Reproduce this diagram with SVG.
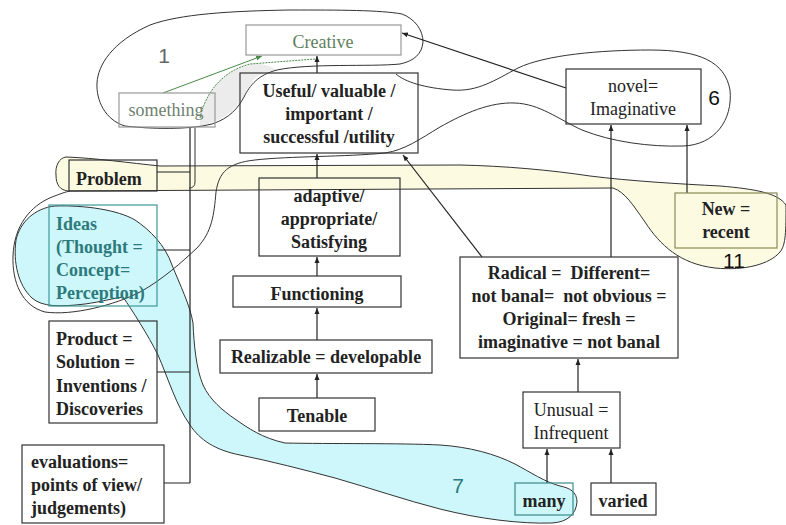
<svg xmlns="http://www.w3.org/2000/svg" width="786" height="525" viewBox="0 0 786 525">
<style>
.bx{fill:none;stroke:#333;stroke-width:1.2}
.lt{fill:none;stroke:#999;stroke-width:1.2}
.ol{fill:none;stroke:#333;stroke-width:1}
.cn{fill:none;stroke:#222;stroke-width:1.2}
.t{font-family:"Liberation Serif",serif;font-size:18px;fill:#222;font-weight:bold;text-anchor:middle}
.r{font-weight:normal}
.l{text-anchor:start}
.n{font-family:"Liberation Sans",Arial,sans-serif;font-size:21px;fill:#111;text-anchor:middle}
</style>
<defs>
<marker id="ah" markerWidth="8" markerHeight="8" refX="6" refY="4" orient="auto" markerUnits="userSpaceOnUse"><path d="M0,1.5 L6,4 L0,6.5 z" fill="#222"/></marker>
<marker id="ag" markerWidth="8" markerHeight="8" refX="6" refY="4" orient="auto" markerUnits="userSpaceOnUse"><path d="M0,1.5 L6,4 L0,6.5 z" fill="#4a8a4a"/></marker>
</defs>
<rect width="786" height="525" fill="#fff"/>

<g id="blobs">
<path id="blob7" d="M123,297 C132,310 148,335 158,355 C168,378 176,405 190,425 C200,440 215,450 240,455 C270,461 305,470 335,478 C370,488 405,500 440,509 C480,519 520,524 552,523 C568,522 576,514 577,502 C577,492 570,488 560,486 C545,482 530,472 515,464 C495,454 470,447 440,445 C400,443 330,444 285,443 C262,438 248,428 235,419 C222,410 210,400 203,385 C196,368 194,345 193,323 C190,305 180,285 172,265 C165,245 150,230 135,220 C118,210 85,205 55,206 C35,208 20,222 16,240 C13,262 18,285 32,298 C42,307 60,307 85,304 C100,302 115,298 123,297 Z" fill="#cdf7fb" stroke="#333" stroke-width="1"/>
<path id="blob11" d="M66,157 C59,158 55,166 56,175 C56,185 60,190 68,191 L613,188 C625,192 633,205 645,222 C660,245 680,264 715,268 C745,271 770,264 780,252 C786,245 786,230 786,205 C778,193 755,189 720,186 C680,184 630,181 590,176 C550,170 505,166 460,165 L160,166 C130,163 95,158 66,157 Z" fill="#fdfae2" stroke="#333" stroke-width="1"/>
<path id="greyfill" d="M200,118 C205,95 220,72 252,64 C262,63 270,66 277,70 C262,72 255,77 250,85 C244,95 238,108 228,114 C220,120 210,124 200,126 Z" fill="#ececec"/>
<path id="blob1" class="ol" d="M97,83 C98,65 112,42 150,25 C180,14 230,11 290,10 C340,10 380,10 402,14 C415,19 423,30 423,42 C422,54 414,61 400,64 C370,67 310,63 277,70 C258,75 250,85 244,97 C238,108 230,118 212,124 C190,130 150,129 125,126 C105,120 96,100 97,83 Z"/>
<path id="blob6" class="ol" d="M396,74 C405,82 425,88 452,90 C478,92 495,80 518,68 C545,55 600,50 650,50 C700,50 725,62 730,90 C733,120 715,145 683,146 C650,147 612,142 582,130 C558,119 540,104 515,103 C490,102 465,113 440,127 C420,139 405,150 385,153 C345,157 290,156 255,160 C228,163 219,172 216,192 C214,215 212,232 197,248 C182,262 162,280 140,292 C115,305 72,316 45,312 C22,306 12,282 13,256 C14,226 30,206 52,197 C60,194 65,192 70,191"/>
</g>

<g id="connectors">
<path class="cn" d="M190,128 L190,483 M157,172 L190,172 M157,250 L190,250 M157,372 L190,372 M164,483 L190,483"/>
<path class="ol" d="M195,128 L195,182 Q195,188 189,188"/>
<path class="cn" d="M317,73 L317,56" marker-end="url(#ah)"/>
<path class="cn" d="M317,178 L317,154" marker-end="url(#ah)"/>
<path class="cn" d="M317,276 L317,257" marker-end="url(#ah)"/>
<path class="cn" d="M317,340 L317,308" marker-end="url(#ah)"/>
<path class="cn" d="M317,398 L317,374" marker-end="url(#ah)"/>
<path class="cn" d="M482,257 L403,155" marker-end="url(#ah)"/>
<path class="cn" d="M611,257 L611,125" marker-end="url(#ah)"/>
<path class="cn" d="M687,193 L687,125" marker-end="url(#ah)"/>
<path class="cn" d="M566,88 L402,33" marker-end="url(#ah)"/>
<path class="cn" d="M578,392 L578,359" marker-end="url(#ah)"/>
<path class="cn" d="M547,483 L547,449" marker-end="url(#ah)"/>
<path class="cn" d="M611,483 L611,449" marker-end="url(#ah)"/>
<path fill="none" stroke="#4a8a4a" stroke-width="1" d="M163,93 L262,56" marker-end="url(#ag)"/>
<path fill="none" stroke="#4a8a4a" stroke-width="1" stroke-dasharray="2,1" d="M200,118 C205,95 220,72 250,64 L315,59"/>
</g>

<g id="creative"><rect class="lt" x="246" y="25" width="155" height="30"/><text class="t r" x="323" y="48" style="fill:#5f7f60">Creative</text></g>
<g id="something"><rect class="lt" x="119" y="93" width="96" height="34"/><text class="t r" x="166" y="116" style="fill:#6f7f70">something</text></g>
<g id="useful"><rect class="bx" x="240" y="73" width="178" height="80"/>
<text class="t" x="329" y="97">Useful/ valuable /</text><text class="t" x="329" y="120">important /</text><text class="t" x="329" y="143">successful /utility</text></g>
<g id="novel"><rect class="bx" x="566" y="69" width="135" height="55"/>
<text class="t r" x="633" y="92">novel=</text><text class="t r" x="633" y="115">Imaginative</text></g>
<g id="problem"><rect class="bx" x="69" y="160" width="88" height="31"/><text class="t l" x="76" y="185">Problem</text></g>
<g id="ideas"><rect fill="none" stroke="#3c9a9a" stroke-width="1.2" x="49" y="205" width="108" height="101"/>
<g style="fill:#2d7a7c"><text class="t l" x="56" y="230" style="fill:#2d7a7c">Ideas</text><text class="t l" x="56" y="253" style="fill:#2d7a7c">(Thought =</text><text class="t l" x="56" y="276" style="fill:#2d7a7c">Concept=</text><text class="t l" x="56" y="299" style="fill:#2d7a7c">Perception)</text></g></g>
<g id="product"><rect class="bx" x="49" y="321" width="108" height="102"/>
<text class="t l" x="56" y="345">Product =</text><text class="t l" x="56" y="368">Solution =</text><text class="t l" x="56" y="392">Inventions /</text><text class="t l" x="56" y="415">Discoveries</text></g>
<g id="evaluations"><rect class="bx" x="22" y="445" width="142" height="78"/>
<text class="t l" x="31" y="468">evaluations=</text><text class="t l" x="31" y="491">points of view/</text><text class="t l" x="31" y="514">judgements)</text></g>
<g id="adaptive"><rect class="bx" x="259" y="178" width="141" height="78"/>
<text class="t" x="329" y="202">adaptive/</text><text class="t" x="329" y="225">appropriate/</text><text class="t" x="329" y="248">Satisfying</text></g>
<g id="functioning"><rect class="bx" x="233" y="276" width="168" height="31"/><text class="t" x="317" y="300">Functioning</text></g>
<g id="realizable"><rect class="bx" x="220" y="340" width="212" height="33"/><text class="t" x="326" y="363">Realizable = developable</text></g>
<g id="tenable"><rect class="bx" x="259" y="398" width="116" height="33"/><text class="t" x="317" y="422">Tenable</text></g>
<g id="new"><rect fill="none" stroke="#8a8a58" stroke-width="1.2" x="675" y="193" width="102" height="55"/>
<text class="t" x="726" y="215">New =</text><text class="t" x="726" y="238">recent</text></g>
<g id="radical"><rect class="bx" x="460" y="257" width="218" height="101"/>
<text class="t" x="569" y="279" style="white-space:pre">Radical =  Different=</text><text class="t" x="569" y="302" style="white-space:pre">not banal=  not obvious =</text><text class="t" x="569" y="325">Original= fresh =</text><text class="t" x="569" y="348">imaginative = not banal</text></g>
<g id="unusual"><rect class="bx" x="523" y="392" width="97" height="56"/>
<text class="t r" x="571" y="416">Unusual =</text><text class="t r" x="571" y="439">Infrequent</text></g>
<g id="many"><rect fill="none" stroke="#3a8a8a" stroke-width="1.2" x="515" y="483" width="58" height="32"/><text class="t" x="544" y="507">many</text></g>
<g id="varied"><rect class="bx" x="591" y="483" width="65" height="32"/><text class="t" x="623" y="507">varied</text></g>

<g id="labels">
<text class="n" x="164" y="63" style="fill:#666">1</text>
<text class="n" x="714" y="105">6</text>
<text class="n" x="734" y="268">11</text>
<text class="n" x="458" y="493" style="fill:#2d7a7c">7</text>
</g>
</svg>
